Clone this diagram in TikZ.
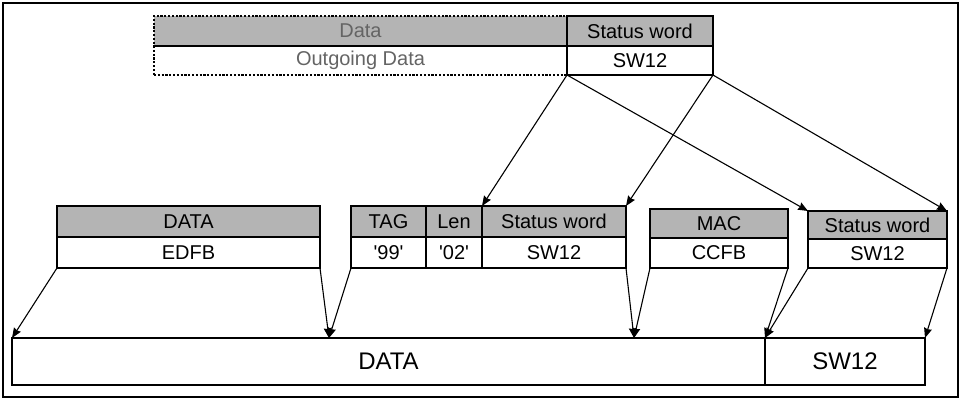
\documentclass[tikz,border=0pt]{standalone}
\usepackage{fontspec}
\setmainfont{Liberation Sans}
\usetikzlibrary{arrows.meta}
\definecolor{hdrgray}{RGB}{180,180,180}
\definecolor{txtgray}{RGB}{100,100,100}
\newcommand{\sq}{\textquotesingle}
\begin{document}
\begin{tikzpicture}[x=1pt,y=-1pt,
  cell/.style={draw=black,line width=1.8pt,anchor=north west,inner sep=0pt,outer sep=0pt,
    font=\fontsize{20pt}{24pt}\selectfont},
  hdr/.style={cell,fill=hdrgray},
  dotcell/.style={cell,draw=black,line width=1.5pt,dash pattern=on 2.2pt off 1.6pt,text=txtgray},
  big/.style={cell,line width=1.6pt,font=\fontsize{24pt}{28pt}\selectfont},
  arr/.style={line width=1.1pt,-{Stealth[length=10pt,width=8pt,inset=1pt]}}]
\useasboundingbox (0,0) rectangle (962,400);
\draw[line width=2.4pt] (3,3) rectangle (958,397);
% top block
\node[dotcell,fill=hdrgray,minimum width=413pt,minimum height=30pt] (tdata) at (154,16) {Data};
\node[dotcell,minimum width=413pt,minimum height=29pt] (tout) at (154,46) {Outgoing Data};
\node[hdr,minimum width=146pt,minimum height=30pt] (tsw) at (567,16) {Status word};
\node[cell,minimum width=146pt,minimum height=29pt] (tswv) at (567,46) {SW12};
% middle row
\node[hdr,minimum width=263pt,minimum height=31pt] (dh) at (57,206) {DATA};
\node[cell,minimum width=263pt,minimum height=31pt] (dv) at (57,237) {EDFB};
\node[hdr,minimum width=75pt,minimum height=31pt] (tag) at (351,206) {TAG};
\node[cell,minimum width=75pt,minimum height=31pt] (tagv) at (351,237) {\sq99\sq};
\node[hdr,minimum width=56pt,minimum height=31pt] (len) at (426,206) {Len};
\node[cell,minimum width=56pt,minimum height=31pt] (lenv) at (426,237) {\sq02\sq};
\node[hdr,minimum width=144pt,minimum height=31pt] (sw) at (482,206) {Status word};
\node[cell,minimum width=144pt,minimum height=31pt] (swv) at (482,237) {SW12};
\node[hdr,minimum width=138pt,minimum height=29pt] (mac) at (650,209) {MAC};
\node[cell,minimum width=138pt,minimum height=30pt] (macv) at (650,238) {CCFB};
\node[hdr,minimum width=139pt,minimum height=28pt] (rsw) at (808,211) {Status word};
\node[cell,minimum width=139pt,minimum height=29pt] (rswv) at (808,239) {SW12};
% bottom row
\node[big,minimum width=753pt,minimum height=47pt] (bdata) at (12,338) {DATA};
\node[big,minimum width=160pt,minimum height=47pt] (bsw) at (765,338) {SW12};
\coordinate (m1) at (329,338);
\coordinate (m2) at (634,338);
% arrows top -> middle
\draw[arr] (tswv.south west) -- (sw.north west);
\draw[arr] (tswv.south west) -- (rsw.north west);
\draw[arr] (tswv.south east) -- (sw.north east);
\draw[arr] (tswv.south east) -- (rsw.north east);
% arrows middle -> bottom
\draw[arr] (dv.south west) -- (bdata.north west);
\draw[arr] (dv.south east) -- (m1);
\draw[arr] (tagv.south west) -- (m1);
\draw[arr] (swv.south east) -- (m2);
\draw[arr] (macv.south west) -- (m2);
\draw[arr] (macv.south east) -- (bsw.north west);
\draw[arr] (rswv.south west) -- (bsw.north west);
\draw[arr] (rswv.south east) -- (bsw.north east);
\end{tikzpicture}
\end{document}
